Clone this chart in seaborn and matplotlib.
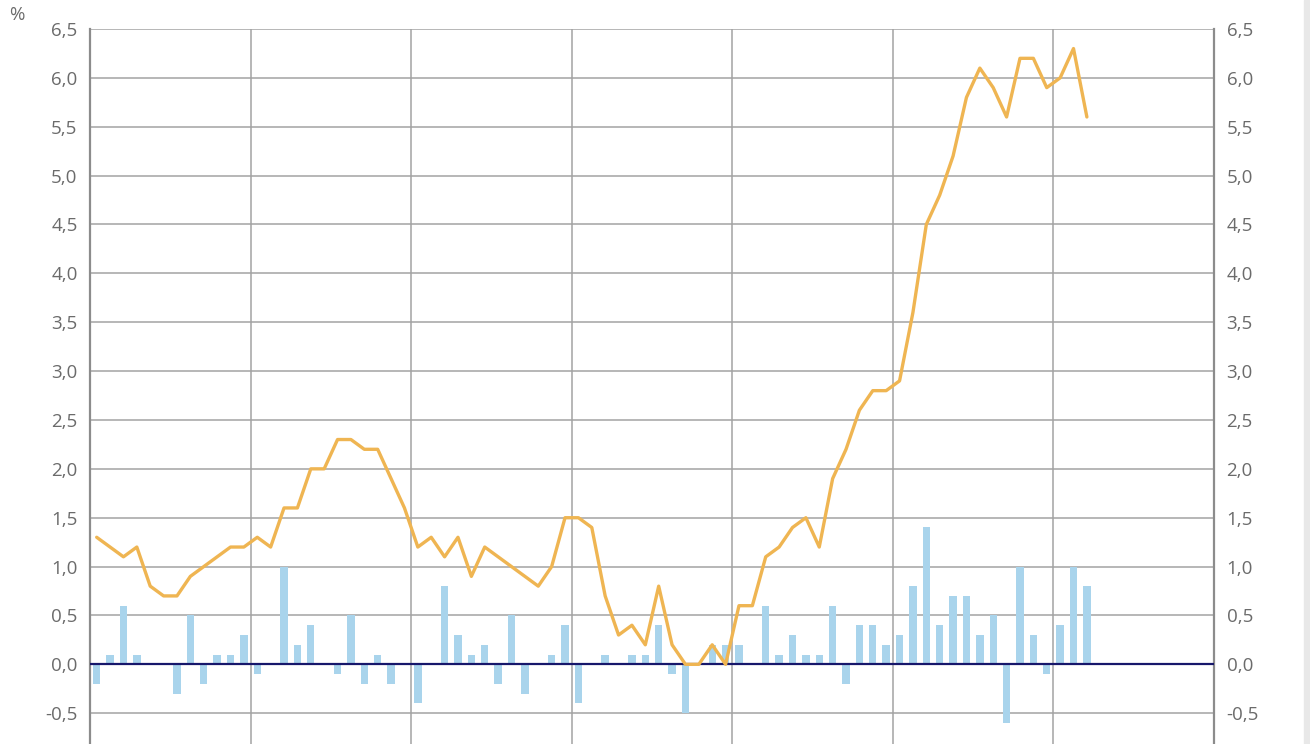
import numpy as np
import pandas as pd
import matplotlib.pyplot as plt
import seaborn as sns
from matplotlib.ticker import FuncFormatter
from matplotlib.patches import Rectangle

### data (monthly, 75 months)

# month-on-month change, %
mom_change = [
    -0.2, 0.1, 0.6, 0.1, 0.0, 0.0, -0.3, 0.5, -0.2, 0.1, 0.1, 0.3,
    -0.1, 0.0, 1.0, 0.2, 0.4, 0.0, -0.1, 0.5, -0.2, 0.1, -0.2, 0.0,
    -0.4, 0.0, 0.8, 0.3, 0.1, 0.2, -0.2, 0.5, -0.3, 0.0, 0.1, 0.4,
    -0.4, 0.0, 0.1, 0.0, 0.1, 0.1, 0.4, -0.1, -0.5, 0.0, 0.2, 0.2,
    0.2, 0.0, 0.6, 0.1, 0.3, 0.1, 0.1, 0.6, -0.2, 0.4, 0.4, 0.2,
    0.3, 0.8, 1.4, 0.4, 0.7, 0.7, 0.3, 0.5, -0.6, 1.0, 0.3, -0.1,
    0.4, 1.0, 0.8,
]

# year-on-year change, %
yoy_change = [
    1.3, 1.2, 1.1, 1.2, 0.8, 0.7, 0.7, 0.9, 1.0, 1.1, 1.2, 1.2,
    1.3, 1.2, 1.6, 1.6, 2.0, 2.0, 2.3, 2.3, 2.2, 2.2, 1.9, 1.6,
    1.2, 1.3, 1.1, 1.3, 0.9, 1.2, 1.1, 1.0, 0.9, 0.8, 1.0, 1.5,
    1.5, 1.4, 0.7, 0.3, 0.4, 0.2, 0.8, 0.2, 0.0, 0.0, 0.2, 0.0,
    0.6, 0.6, 1.1, 1.2, 1.4, 1.5, 1.2, 1.9, 2.2, 2.6, 2.8, 2.8,
    2.9, 3.6, 4.5, 4.8, 5.2, 5.8, 6.1, 5.9, 5.6, 6.2, 6.2, 5.9,
    6.0, 6.3, 5.6,
]

y_ticks = [-0.5, 0.0, 0.5, 1.0, 1.5, 2.0, 2.5, 3.0, 3.5, 4.0, 4.5, 5.0, 5.5, 6.0, 6.5]
n_years = 7

df = pd.DataFrame({
    "month": np.arange(len(mom_change)),
    "mom": mom_change,
    "yoy": yoy_change,
})

### plot

sns.set_style("white")
plt.rcParams["font.family"] = ["Open Sans", "DejaVu Sans"]

fig = plt.figure(figsize=(13.1, 7.44), dpi=100)
ax = fig.add_axes([90 / 1310, 0.0, (1214 - 90) / 1310, 1 - 29 / 744])

grid_col = "#a3a3a3"
text_col = "#6b6b6b"

sns.barplot(data=df, x="month", y="mom", native_scale=True, width=0.55,
            color="#a9d4ec", saturation=1, linewidth=0, ax=ax, zorder=2)
ax.axhline(0, color="#17176b", lw=1.6, zorder=3)
sns.lineplot(data=df, x="month", y="yoy", color="#efb552", lw=2.4, ax=ax, zorder=4)

ax.set_xlim(-0.5, n_years * 12 - 0.5)
ax.set_ylim(-0.815, 6.5)

ax.set_xticks([12 * i - 0.5 for i in range(1, n_years)])
ax.set_xticklabels([])
ax.set_yticks(y_ticks)
ax.yaxis.set_major_formatter(FuncFormatter(lambda v, p: f"{v:.1f}".replace(".", ",")))

ax.grid(True, axis="both", color=grid_col, lw=1.1, zorder=0)
ax.set_axisbelow(True)
ax.tick_params(axis="y", length=0, labelsize=13.5, labelcolor=text_col,
               labelleft=True, labelright=True, pad=9)
ax.tick_params(axis="x", length=0)

for side in ["top", "bottom"]:
    ax.spines[side].set_visible(False)
for side in ["left", "right"]:
    ax.spines[side].set_color("#8c8c8c")
    ax.spines[side].set_linewidth(1.6)

ax.set_xlabel("")
ax.set_ylabel("")

fig.text(9 / 1310, 1 - 15 / 744, "%", ha="left", va="center",
         fontsize=13.5, color=text_col)

# light strip at the right edge
fig.patches.append(Rectangle((1304 / 1310, 0), 6 / 1310, 1, transform=fig.transFigure,
                             color="#e8e8e8", zorder=0))

plt.savefig("out.png", dpi=100)
